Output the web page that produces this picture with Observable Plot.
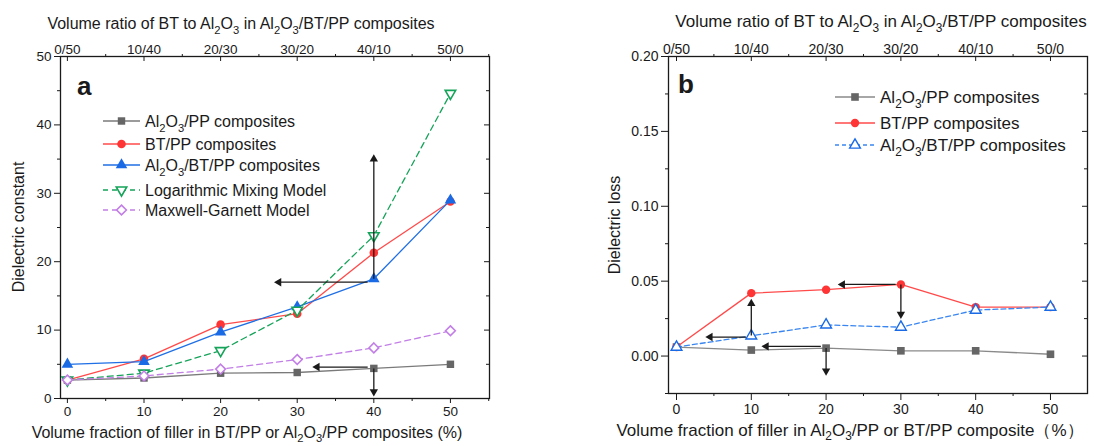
<!DOCTYPE html>
<html><head><meta charset="utf-8">
<script src="https://cdn.jsdelivr.net/npm/d3@7"></script>
<script src="https://cdn.jsdelivr.net/npm/@observablehq/plot@0.6"></script>
<style>
body{margin:0;background:#fff;}
#wrap{position:relative;width:1099px;height:446px;overflow:hidden;background:#fff;}
#wrap svg{position:absolute;top:0;}
</style></head><body><div id="wrap"></div>
<script>
// ---------- data ----------
const fillerPct = [0, 10, 20, 30, 40, 50];
const ratioLabels = ["0/50", "10/40", "20/30", "30/20", "40/10", "50/0"];

// panel a: dielectric constant
const al2o3PP_eps = [2.7, 3.0, 3.7, 3.8, 4.4, 5.0];
const btPP_eps = [2.7, 5.8, 10.8, 12.4, 21.3, 28.8];
const ternary_eps = [5.0, 5.4, 9.7, 13.4, 17.5, 29.0];
const logMixing_eps = [2.7, 3.7, 7.0, 12.9, 23.8, 44.6];
const maxwellGarnett_eps = [2.7, 3.3, 4.3, 5.7, 7.4, 9.9];

// panel b: dielectric loss
const al2o3PP_loss = [0.0060, 0.0040, 0.0053, 0.0035, 0.0035, 0.0012];
const btPP_loss = [0.0060, 0.0420, 0.0443, 0.0478, 0.0327, 0.0327];
const ternary_loss = [0.0060, 0.0135, 0.0208, 0.0193, 0.0307, 0.0327];

// tick values
const xMajorTicks = [0, 10, 20, 30, 40, 50];
const xMinorTicks = [5, 15, 25, 35, 45, 55];
const yMajorA = [0, 10, 20, 30, 40, 50];
const yMinorA = [5, 15, 25, 35, 45];
const yMajorB = [0, 0.05, 0.10, 0.15, 0.20];
const yMinorB = [-0.025, 0.025, 0.075, 0.125, 0.175];

// annotation arrows (data coordinates)
const arrowsA = [
  {x1: 40, y1: 17.5, x2: 40, y2: 35.0},
  {x1: 39.2, y1: 17.0, x2: 27.6, y2: 17.0},
  {x1: 39.2, y1: 4.6, x2: 32.6, y2: 4.6},
  {x1: 40, y1: 4.4, x2: 40, y2: 1.0}
];
const arrowsB = [
  {x1: 10, y1: 0.0138, x2: 10, y2: 0.0350},
  {x1: 9.3, y1: 0.0127, x2: 4.5, y2: 0.0127},
  {x1: 19.3, y1: 0.0065, x2: 12.0, y2: 0.0065},
  {x1: 20, y1: 0.0053, x2: 20, y2: -0.0100},
  {x1: 29.3, y1: 0.0478, x2: 22.2, y2: 0.0478},
  {x1: 30, y1: 0.0478, x2: 30, y2: 0.0280}
];

const FONT = '"Liberation Sans", Arial, Helvetica, sans-serif';
const INK = "#1a1a1a";

const seriesA = [
  {name: "Al_2O_3/PP composites", values: al2o3PP_eps, line: "#7a7a7a", symbol: "square", r: 4.2, fill: "#666", stroke: "none", sw: 0},
  {name: "BT/PP composites", values: btPP_eps, line: "#ff4a4a", symbol: "circle", r: 4.3, fill: "#ff3535", stroke: "none", sw: 0},
  {name: "Al_2O_3/BT/PP composites", values: ternary_eps, line: "#1f6fe5", symbol: "triangle", r: 4.3, fill: "#1a6ae6", stroke: "none", sw: 0},
  {name: "Logarithmic Mixing Model", values: logMixing_eps, line: "#16a35a", dash: "6,4", symbol: "triangle", rotate: 180, r: 3.9, fill: "white", stroke: "#16a35a", sw: 1.6},
  {name: "Maxwell-Garnett Model", values: maxwellGarnett_eps, line: "#c27fe6", dash: "6,4", symbol: "diamond2", r: 4.4, fill: "white", stroke: "#c27fe6", sw: 1.6}
];
const seriesB = [
  {name: "Al_2O_3/PP composites", values: al2o3PP_loss, line: "#8a8a8a", symbol: "square", r: 4.3, fill: "#666", stroke: "none", sw: 0},
  {name: "BT/PP composites", values: btPP_loss, line: "#ff4a4a", symbol: "circle", r: 4.2, fill: "#ff3535", stroke: "none", sw: 0},
  {name: "Al_2O_3/BT/PP composites", values: ternary_loss, line: "#3a86f0", dash: "5,3", symbol: "triangle", r: 4.0, fill: "white", stroke: "#1a6ae6", sw: 1.4}
];

function rows(values) { return fillerPct.map((x, i) => ({x, y: values[i]})); }

function panel(cfg) {
  const {width, height, ml, mr, mt, mb, xDomain, yDomain, yMajor, yMinor, yFmt, series, arrows, fs, xTick, xPad, yTick, yPad} = cfg;
  const ph = height - mt - mb, pw = width - ml - mr;
  const marks = [];
  for (const s of series) {
    const d = rows(s.values);
    marks.push(Plot.line(d, {x: "x", y: "y", stroke: s.line, strokeWidth: 1.3, strokeDasharray: s.dash}));
    marks.push(Plot.dot(d, {x: "x", y: "y", symbol: s.symbol, r: s.r, fill: s.fill, stroke: s.stroke, strokeWidth: s.sw, rotate: s.rotate || 0}));
  }
  marks.push(Plot.link(arrows, {x1: "x1", y1: "y1", x2: "x2", y2: "y2", stroke: INK, strokeWidth: 1.3}));
  marks.push(Plot.dot(arrows, {x: "x2", y: "y2", symbol: "triangle", r: 3.1, fill: INK, stroke: "none",
    rotate: d => d.x2 < d.x1 ? -90 : (d.y2 > d.y1 ? 0 : 180)}));
  marks.push(Plot.frame({stroke: INK, strokeWidth: 1.3}));
  // left axis (outward)
  marks.push(Plot.axisY({anchor: "left", ticks: yMajor, tickSize: yTick, tickPadding: yPad, tickFormat: yFmt, fontSize: fs, label: null, color: INK}));
  marks.push(Plot.axisY({anchor: "left", ticks: yMinor, tickSize: 3, tickFormat: () => "", label: null, color: INK}));
  // right axis (inward)
  marks.push(Plot.tickY(yMajor, {y: d => d, insetLeft: pw - 5, stroke: INK}));
  marks.push(Plot.tickY(yMinor, {y: d => d, insetLeft: pw - 3, stroke: INK}));
  // bottom axis (outward)
  marks.push(Plot.axisX({anchor: "bottom", ticks: xMajorTicks, tickSize: xTick, tickPadding: xPad, tickFormat: d => String(d), fontSize: fs, label: null, color: INK}));
  marks.push(Plot.axisX({anchor: "bottom", ticks: xMinorTicks.filter(v => v < xDomain[1]), tickSize: 3, tickFormat: () => "", label: null, color: INK}));
  // top axis: ratio labels, inward major ticks, outward minor ticks
  marks.push(Plot.axisX({anchor: "top", ticks: xMajorTicks, tickSize: 0, tickPadding: 3, tickFormat: d => ratioLabels[xMajorTicks.indexOf(d)], fontSize: fs, label: null, color: INK}));
  marks.push(Plot.tickX(xMajorTicks, {x: d => d, insetBottom: ph - 5, stroke: INK}));
  marks.push(Plot.axisX({anchor: "top", ticks: xMinorTicks.filter(v => v < xDomain[1]), tickSize: 3, tickFormat: () => "", label: null, color: INK}));
  return Plot.plot({
    width, height, marginLeft: ml, marginRight: mr, marginTop: mt, marginBottom: mb,
    x: {domain: xDomain}, y: {domain: yDomain},
    style: {fontFamily: FONT, fontSize: fs + "px", background: "transparent", overflow: "visible", color: INK},
    marks
  });
}

function rich(sel, str, x, y, size, opts = {}) {
  const t = sel.append("text").attr("x", x).attr("y", y)
    .attr("font-size", size).attr("font-family", FONT).attr("fill", INK)
    .attr("text-anchor", opts.anchor || "start");
  if (opts.rotate) t.attr("transform", `rotate(${opts.rotate},${x},${y})`);
  if (opts.weight) t.attr("font-weight", opts.weight);
  const parts = str.split(/(_\d)/).filter(s => s);
  const sub = size * (opts.subShift || 0.3);
  let shifted = false;
  for (const p of parts) {
    if (p.startsWith("_")) {
      t.append("tspan").attr("font-size", size * 0.7).attr("dy", shifted ? 0 : sub).text(p.slice(1));
      shifted = true;
    } else {
      const ts = t.append("tspan").text(p);
      if (shifted) { ts.attr("dy", -sub); shifted = false; }
    }
  }
  return t;
}

function legend(svg, series, xl0, xl1, xm, xt, ys, size, dashLegend) {
  const g = svg.append("g");
  series.forEach((s, i) => {
    const y = ys[i];
    g.append("line").attr("x1", xl0).attr("x2", xl1).attr("y1", y).attr("y2", y)
      .attr("stroke", s.line).attr("stroke-width", 1.3)
      .attr("stroke-dasharray", s.dash ? dashLegend : null);
    const sym = {square: d3.symbolSquare, circle: d3.symbolCircle, triangle: d3.symbolTriangle, diamond2: d3.symbolDiamond2}[s.symbol];
    g.append("path").attr("d", d3.symbol(sym, s.r * s.r * Math.PI)())
      .attr("transform", `translate(${xm},${y}) rotate(${s.rotate || 0})`)
      .attr("fill", s.fill).attr("stroke", s.stroke).attr("stroke-width", s.sw);
    rich(g, s.name, xt, y + size * 0.36, size);
  });
}

const wrap = document.getElementById("wrap");

// ---------- panel a ----------
const svgA = panel({
  width: 540, height: 446, ml: 60, mr: 51, mt: 56, mb: 48,
  xDomain: [-0.9, 55.1], yDomain: [0, 50], yMajor: yMajorA, yMinor: yMinorA, yFmt: d => String(d),
  series: seriesA, arrows: arrowsA, fs: 13.5, xTick: 5, xPad: 3, yTick: 6, yPad: 3
});
svgA.style.left = "0px";
wrap.appendChild(svgA);
{
  const s = d3.select(svgA);
  rich(s, "Volume ratio of BT to Al_2O_3 in Al_2O_3/BT/PP composites", 241, 29, 16, {anchor: "middle"});
  rich(s, "Volume fraction of filler in BT/PP or Al_2O_3/PP composites (%)", 247, 438, 16, {anchor: "middle", subShift: 0.25});
  rich(s, "Dielectric constant", 24, 227, 16, {anchor: "middle", rotate: -90});
  rich(s, "a", 77, 95, 26, {weight: "bold"});
  legend(s, seriesA, 103, 140, 121.5, 145, [121, 144, 165, 190, 210], 16, "5,4");
}

// ---------- panel b ----------
const svgB = panel({
  width: 549, height: 446, ml: 118, mr: 12, mt: 56, mb: 53,
  xDomain: [-1.07, 54.95], yDomain: [-0.025, 0.2], yMajor: yMajorB, yMinor: yMinorB, yFmt: d3.format(".2f"),
  series: seriesB, arrows: arrowsB, fs: 14, xTick: 7, xPad: 4, yTick: 7, yPad: 3
});
svgB.style.left = "550px";
wrap.appendChild(svgB);
{
  const s = d3.select(svgB);
  rich(s, "Volume ratio of BT to Al_2O_3 in Al_2O_3/BT/PP composites", 331, 27, 17, {anchor: "middle"});
  rich(s, "Volume fraction of filler in Al_2O_3/PP or BT/PP composite（%）", 300, 436, 17, {anchor: "middle", subShift: 0.22});
  rich(s, "Dielectric loss", 70, 225, 16, {anchor: "middle", rotate: -90});
  rich(s, "b", 128, 93, 26, {weight: "bold"});
  legend(s, seriesB, 285, 325, 305, 330, [97, 123, 145], 17, "4,3");
}
</script></body></html>
